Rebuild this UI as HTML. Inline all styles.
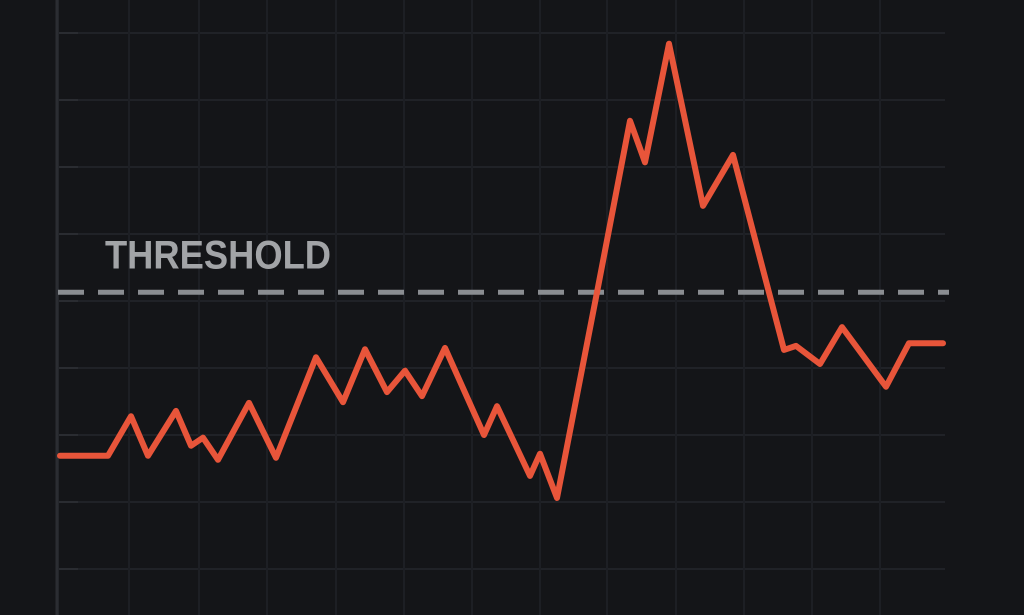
<!DOCTYPE html>
<html><head><meta charset="utf-8"><style>
html,body{margin:0;padding:0;background:#141518;}
svg{display:block;}
</style></head><body>
<svg id="chart" width="1024" height="615" viewBox="0 0 1024 615" xmlns="http://www.w3.org/2000/svg">
<rect x="0" y="0" width="1024" height="615" fill="#141518"/>
<g id="grid"></g>
<line x1="57" y1="0" x2="57" y2="615" stroke="#2b2d32" stroke-width="3"/>
<g id="thr"></g>
<g id="series"></g>
</svg>
<script>
const xValues = [2,50,73,90,118,133,145,160,191,218,258,285,307,329,347,364,387,426,439,472,482,499,539,572,587,611,645,675,726,738,762,784,828,851,885];
const yValues = [16.9,16.9,22.8,16.9,23.6,18.4,19.6,16.3,24.8,16.6,31.6,24.9,32.8,26.4,29.6,25.8,33,20,24.3,13.9,17.2,10.6,41.3,66.9,60.7,78.4,54.2,61.8,32.7,33.3,30.6,36.1,27.2,33.7,33.7];
const thresholdValue = [41.3];
const yTicks = [0,10,20,30,40,50,60,70,80];
const xTicks = [0,71,141,209,278,346,414,482,549,618,686,754,822];

const X0=58, X1=945, Y0=569, Y1=33;
function sx(v){return X0 + v;}
function sy(v){return Y0 - v*(Y0-Y1)/80;}
const NS='http://www.w3.org/2000/svg';
const grid=document.getElementById('grid');
yTicks.forEach(t=>{
  const l=document.createElementNS(NS,'line');
  
  
  l.setAttribute('x1',X0);l.setAttribute('x2',X1);
  l.setAttribute('y1',sy(t));l.setAttribute('y2',sy(t));
  l.setAttribute('stroke','#202227');l.setAttribute('stroke-width','2');
  grid.appendChild(l);
  const tk=document.createElementNS(NS,'line');
  
  
  tk.setAttribute('x1',X0);tk.setAttribute('x2',X0+20);
  tk.setAttribute('y1',sy(t));tk.setAttribute('y2',sy(t));
  tk.setAttribute('stroke','#2a2c31');tk.setAttribute('stroke-width','2');
  grid.appendChild(tk);
});
xTicks.forEach(t=>{
  const l=document.createElementNS(NS,'line');
  
  
  l.setAttribute('x1',sx(t));l.setAttribute('x2',sx(t));
  l.setAttribute('y1',0);l.setAttribute('y2',615);
  l.setAttribute('stroke','#1d1f24');l.setAttribute('stroke-width','2');
  grid.appendChild(l);
});
const thr=document.getElementById('thr');
const tl=document.createElementNS(NS,'line');


tl.setAttribute('x1',X0);tl.setAttribute('x2',X1+4);
tl.setAttribute('y1',sy(thresholdValue[0]));tl.setAttribute('y2',sy(thresholdValue[0]));
tl.setAttribute('stroke','#8a8d91');tl.setAttribute('stroke-width','5');
tl.setAttribute('stroke-dasharray','26 14');
thr.appendChild(tl);
const tt=document.createElementNS(NS,'text');


tt.setAttribute('x',105);tt.setAttribute('y',sy(thresholdValue[0])-24);
tt.setAttribute('fill','#a2a4a7');
tt.setAttribute('font-family','"Liberation Sans Narrow","Liberation Sans",sans-serif');
tt.setAttribute('font-weight','bold');tt.setAttribute('font-size','40');
tt.setAttribute('textLength','226');tt.setAttribute('lengthAdjust','spacingAndGlyphs');
tt.textContent='THRESHOLD';
thr.appendChild(tt);
const p=document.createElementNS(NS,'polyline');


p.setAttribute('points',xValues.map((x,i)=>sx(x)+','+sy(yValues[i])).join(' '));
p.setAttribute('fill','none');p.setAttribute('stroke','#e8553a');
p.setAttribute('stroke-width','6');p.setAttribute('stroke-linejoin','round');p.setAttribute('stroke-linecap','round');
document.getElementById('series').appendChild(p);
</script>
</body></html>
